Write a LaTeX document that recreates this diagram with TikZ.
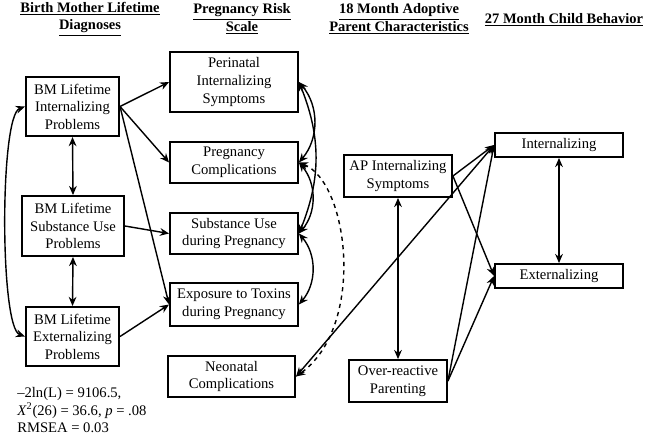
\documentclass[tikz,border=0pt]{standalone}
\usepackage{fontspec}
\setmainfont{Liberation Serif}
\usetikzlibrary{arrows.meta,positioning}
\tikzstyle{box} = [draw, line width=1.3pt, align=center, inner sep=2pt, font=\fontsize{10.4}{12.5}\selectfont]
\tikzstyle{arrow} = [line width=1pt, -{Stealth[length=6.5pt,width=5.5pt]}]
\tikzstyle{corr} = [line width=1pt, {Stealth[length=6.5pt,width=5.5pt]}-{Stealth[length=6.5pt,width=5.5pt]}]
\tikzstyle{head} = [align=center, font=\fontsize{10.3}{12.5}\selectfont\bfseries]

\begin{document}
\begin{tikzpicture}[x=0.025cm, y=-0.025cm]
    \useasboundingbox (0,0) rectangle (649,437);

    % Headers
    \node[head] (hbm) at (90,19) {\underline{Birth Mother Lifetime}\\\underline{Diagnoses}};
    \node[head] (hpr) at (242,19) {\underline{Pregnancy Risk}\\\underline{Scale}};
    \node[head] (hap) at (399,19) {\underline{18 Month Adoptive}\\\underline{Parent Characteristics}};
    \node[head] (hcb) at (564,20) {\underline{27 Month Child Behavior}};

    % Birth mother diagnoses
    \node[box, minimum width=2.33cm, minimum height=1.48cm] (bmint) at (72.5,106.5) {BM Lifetime\\Internalizing\\Problems};
    \node[box, minimum width=2.55cm, minimum height=1.5cm] (bmsub) at (73,226) {BM Lifetime\\Substance Use\\Problems};
    \node[box, minimum width=2.33cm, minimum height=1.48cm] (bmext) at (72.5,336.5) {BM Lifetime\\Externalizing\\Problems};

    % Pregnancy risk
    \node[box, minimum width=3.2cm, minimum height=1.5cm] (peri) at (234,82) {Perinatal\\Internalizing\\Symptoms};
    \node[box, minimum width=3.2cm, minimum height=1.03cm] (comp) at (234,162.5) {Pregnancy\\Complications};
    \node[box, minimum width=3.2cm, minimum height=1.03cm] (subu) at (234,233.5) {Substance Use\\during Pregnancy};
    \node[box, minimum width=3.2cm, minimum height=1.07cm] (expo) at (234,304.5) {Exposure to Toxins\\during Pregnancy};
    \node[box, minimum width=3.18cm, minimum height=1.03cm] (neo) at (231.5,376.5) {Neonatal\\Complications};

    % Adoptive parent
    \node[box, minimum width=2.7cm, minimum height=1.05cm] (apint) at (398,176) {AP Internalizing\\Symptoms};
    \node[box, minimum width=2.45cm, minimum height=1.05cm] (over) at (398,381) {Over-reactive\\Parenting};

    % Child behavior
    \node[box, minimum width=3.2cm, minimum height=0.6cm] (cint) at (559,145) {Internalizing};
    \node[box, minimum width=3.2cm, minimum height=0.6cm] (cext) at (559,276) {Externalizing};

    % Fit
    \node[anchor=north west, align=left, inner sep=0pt, font=\fontsize{10.4}{12.5}\selectfont] (fit) at (17,387)
        {–2ln(L) = 9106.5,\\\textit{X}\textsuperscript{2}(26) = 36.6, \textit{p} = .08\\RMSEA = 0.03};

    % Paths
    \draw[arrow] (bmint.east) -- (peri.west);
    \draw[arrow] (bmint.east) -- (comp.west);
    \draw[arrow] (bmint.east) -- (expo.west);
    \draw[arrow] (bmsub.east) -- (subu.west);
    \draw[arrow] (bmext.east) -- (expo.west);
    \draw[corr] (bmint.south) -- (bmsub.north);
    \draw[corr] (bmsub.south) -- (bmext.north);
    \draw[corr] (bmint.west) to[out=200, in=160, looseness=0.3] (bmext.west);

    \draw[corr] (peri.east) to[bend left=40] (comp.east);
    \draw[corr] (peri.east) to[bend left=22] (subu.east);
    \draw[corr] (comp.east) to[bend left=40] (subu.east);
    \draw[corr] (subu.east) to[bend left=40] (expo.east);
    \draw[corr, dashed] (comp.east) .. controls +(50,20) and +(70,-50) .. (neo.east);

    \draw[corr] (neo.east) -- (cint.west);
    \draw[arrow] (apint.east) -- (cint.west);
    \draw[arrow] (apint.east) -- (cext.west);
    \draw[corr] (apint.south) -- (over.north);
    \draw[arrow] (over.east) -- (cint.west);
    \draw[arrow] (over.east) -- (cext.west);
    \draw[corr] (cint.south) -- (cext.north);
\end{tikzpicture}
\end{document}
